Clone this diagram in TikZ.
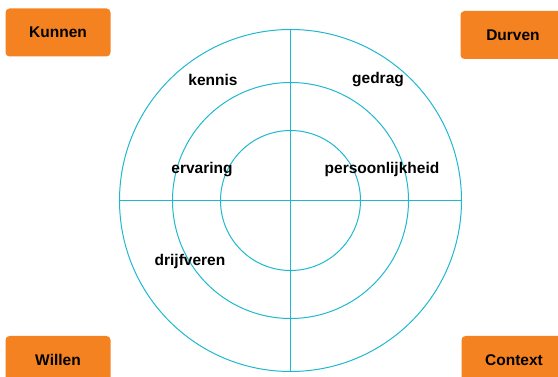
\documentclass[tikz,border=0pt]{standalone}
\usepackage{fontspec}
\setmainfont{Liberation Sans}
\usetikzlibrary{positioning}
\definecolor{ringblue}{HTML}{1FB8CE}
\definecolor{tagorange}{HTML}{F58220}

\begin{document}
\begin{tikzpicture}[
  x=1pt,y=-1pt,
  font=\fontsize{15.5}{18}\selectfont\bfseries,
  tag/.style={fill=tagorange,rounded corners=4pt,minimum width=105pt,minimum height=48pt,inner sep=0pt},
  ring/.style={draw=ringblue,line width=1pt},
  word/.style={inner sep=1pt}
]
\useasboundingbox (0,0) rectangle (558,377);

% rings and cross
\coordinate (c) at (290.5,200.5);
\draw[ring] (c) circle[radius=171pt];
\draw[ring] (c) circle[radius=118pt];
\draw[ring] (c) circle[radius=70pt];
\coordinate (w) at (119.5,200.5);
\coordinate (e) at (461.5,200.5);
\coordinate (n) at (290.5,29.5);
\coordinate (s) at (290.5,371.5);
\draw[ring] (w) -- (e);
\draw[ring] (n) -- (s);

% labels in the rings
\node[word] (kennis) at (213,80) {kennis};
\node[word] (gedrag) at (378,80) {gedrag};
\node[word] (ervaring) at (202,170) {ervaring};
\node[word] (persoon) at (382,169) {persoonlijkheid};
\node[word] (drijf) at (190,261) {drijfveren};

% corner tags
\node[tag] (kunnen) at (58,32.5) {Kunnen};
\node[tag] (durven) at (513,35) {Durven};
\node[tag] (willen) at (58,360) {Willen};
\node[tag] (context) at (514,360) {Context};
\end{tikzpicture}
\end{document}
